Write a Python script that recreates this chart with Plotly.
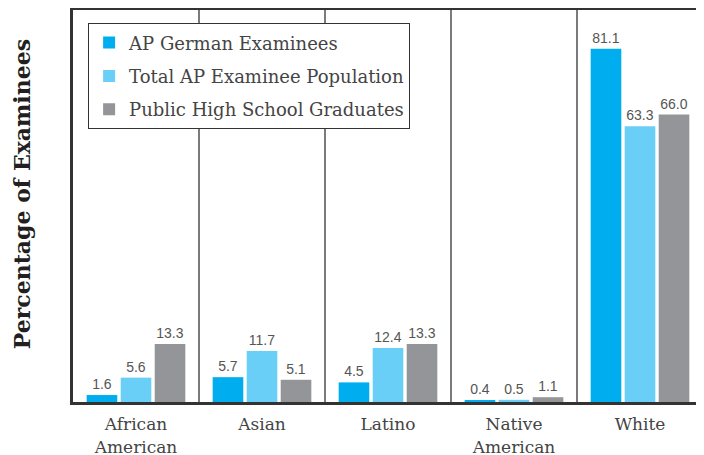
import plotly.graph_objects as go

categories = ["African<br>American", "Asian", "Latino", "Native<br>American", "White"]
series_names = ["AP German Examinees", "Total AP Examinee Population", "Public High School Graduates"]
german = [1.6, 5.7, 4.5, 0.4, 81.1]
total_ap = [5.6, 11.7, 12.4, 0.5, 63.3]
public_hs = [13.3, 5.1, 13.3, 1.1, 66.0]
colors = ["#00AEEF", "#6ACFF6", "#939598"]

fig = go.Figure()
for i, (name, vals, col) in enumerate(zip(series_names, [german, total_ap, public_hs], colors)):
    fig.add_trace(go.Bar(
        x=categories, y=vals, name=name, legendgroup=f"g{i}",
        marker=dict(color=col, line=dict(width=0)),
        text=[f"{v:.1f}" for v in vals], textposition="outside",
        textfont=dict(family="Liberation Sans, Arial", size=14, color="#555555"),
        cliponaxis=False,
    ))

line_col = "#333333"
shapes = []
for i in range(len(categories) - 1):
    shapes.append(dict(type="line", xref="x", yref="paper", x0=i + 0.5, x1=i + 0.5, y0=0, y1=1,
                       line=dict(color=line_col, width=1.3), layer="below"))
shapes.append(dict(type="line", xref="paper", yref="paper", x0=1, x1=1, y0=0, y1=1,
                   line=dict(color=line_col, width=2)))

fig.update_layout(
    width=696, height=447,
    margin=dict(l=65, r=1, t=2, b=53),
    paper_bgcolor="white", plot_bgcolor="white",
    barmode="group", bargap=0.19, bargroupgap=0.1,
    showlegend=True,
    legend=dict(x=0.024, y=0.966, xanchor="left", yanchor="top",
                bordercolor="#333333", borderwidth=1, bgcolor="white",
                traceorder="grouped", tracegroupgap=7,
                font=dict(family="DejaVu Serif", size=18, color="#444444")),
    shapes=shapes,
    annotations=[dict(text="<b>Percentage of Examinees</b>", textangle=-90,
                      xref="paper", yref="paper", x=0, y=0.53, xanchor="center", yanchor="middle",
                      xshift=-51, showarrow=False,
                      font=dict(family="DejaVu Serif", size=22, color="#231F20"))],
    xaxis=dict(showline=True, linecolor=line_col, linewidth=3, mirror=True,
               ticks="", showgrid=False, automargin=False, ticklabelstandoff=5,
               tickfont=dict(family="DejaVu Serif", size=17, color="#444444")),
    yaxis=dict(range=[0, 90], showline=True, linecolor=line_col, linewidth=3,
               showgrid=False, zeroline=False, showticklabels=False, ticks="",
               automargin=False),
)

fig.write_html("out.html")
